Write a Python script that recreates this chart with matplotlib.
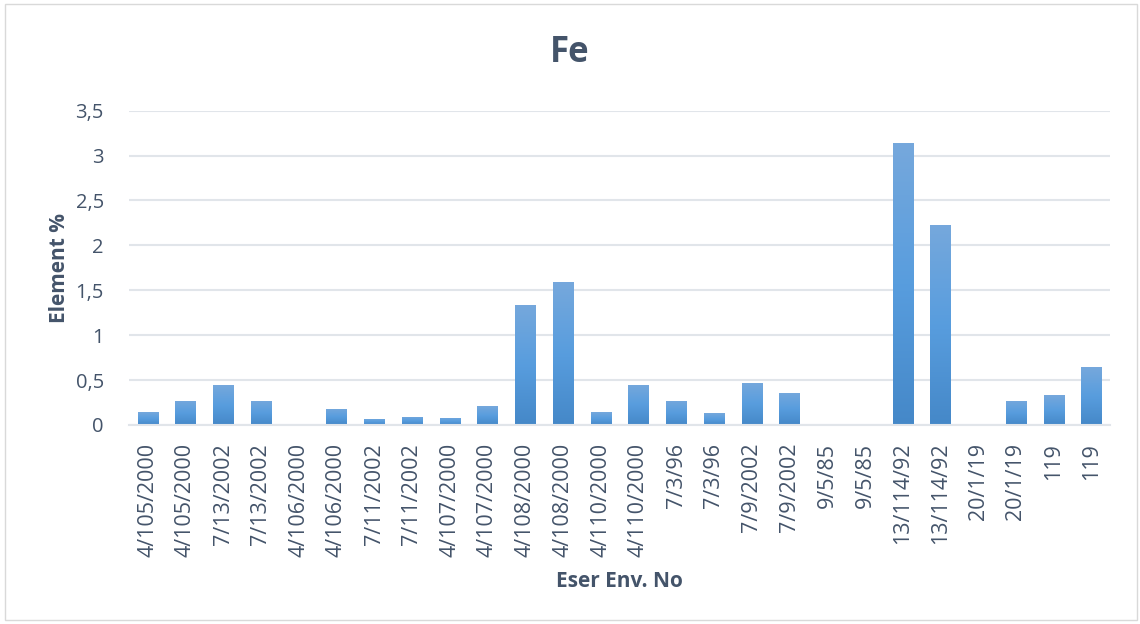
import matplotlib
matplotlib.use("Agg")
import matplotlib.pyplot as plt
import numpy as np
from matplotlib.ticker import FuncFormatter
from matplotlib.patches import Rectangle
from matplotlib.colors import LinearSegmentedColormap

categories = ["4/105/2000", "4/105/2000", "7/13/2002", "7/13/2002", "4/106/2000",
              "4/106/2000", "7/11/2002", "7/11/2002", "4/107/2000", "4/107/2000",
              "4/108/2000", "4/108/2000", "4/110/2000", "4/110/2000", "7/3/96",
              "7/3/96", "7/9/2002", "7/9/2002", "9/5/85", "9/5/85",
              "13/114/92", "13/114/92", "20/1/19", "20/1/19", "119", "119"]
values = [0.14, 0.27, 0.44, 0.27, 0.0, 0.18, 0.07, 0.09, 0.08, 0.21,
          1.34, 1.59, 0.14, 0.45, 0.27, 0.13, 0.47, 0.36, 0.0, 0.0,
          3.14, 2.23, 0.0, 0.27, 0.33, 0.64]
yticks = [0, 0.5, 1, 1.5, 2, 2.5, 3, 3.5]

plt.rcParams['font.family'] = ['Open Sans', 'DejaVu Sans']
text_color = "#44546A"

fig = plt.figure(figsize=(11.4, 6.24), dpi=100)
ax = fig.add_axes([0.113, 0.319, 0.861, 0.5036])

x = list(range(len(categories)))
bars = ax.bar(x, values, width=0.53, color="#5B9BD5", zorder=3)

cmap = LinearSegmentedColormap.from_list("g", ["#4588C8", "#589DDE", "#76A8DC"])
grad = np.linspace(0, 1, 256).reshape(-1, 1)
for b in bars:
    h = b.get_height()
    if h <= 0:
        continue
    x0 = b.get_x()
    w = b.get_width()
    im = ax.imshow(grad, cmap=cmap, origin='lower', aspect='auto',
                   extent=(x0, x0 + w, 0, h), zorder=4, interpolation='bilinear')
    im.set_clip_path(b)

ax.set_xlim(-0.5, len(categories) - 0.5)
ax.set_ylim(0, 3.5)
ax.set_aspect('auto')
ax.set_yticks(yticks)
ax.yaxis.set_major_formatter(FuncFormatter(lambda v, p: (f"{v:g}").replace(".", ",")))
ax.set_xticks(x)
ax.set_xticklabels(categories, rotation=90, fontsize=15.5, color=text_color)
ax.tick_params(axis='y', labelsize=14.5, labelcolor=text_color, length=0, pad=18)
ax.tick_params(axis='x', length=0, pad=13)

ax.grid(axis='y', color="#E1E5EA", linewidth=1.5, zorder=0)
for s in ["top", "right", "left"]:
    ax.spines[s].set_visible(False)
ax.spines["bottom"].set_color("#E1E5EA")
ax.spines["bottom"].set_linewidth(1.5)
ax.spines["bottom"].set_zorder(5)

ax.set_ylabel("Element %", fontsize=15, fontweight='bold', color=text_color, labelpad=4)
ax.set_xlabel("Eser Env. No", fontsize=15, fontweight='bold', color=text_color, labelpad=10)
fig.text(0.5, 0.915, "Fe", ha='center', va='center', fontsize=25, fontweight='bold', color=text_color)

fig.patches.append(Rectangle((0.004, 0.006), 0.993, 0.988, transform=fig.transFigure,
                             fill=False, edgecolor="#D9D9D9", linewidth=1))

fig.savefig("out.png", dpi=100)
